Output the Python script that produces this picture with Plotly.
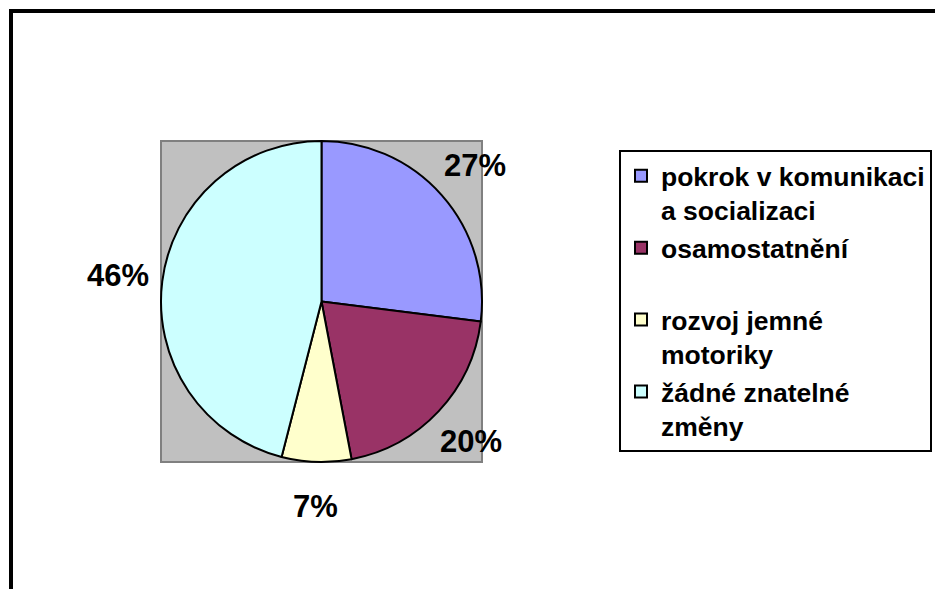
import math
import plotly.graph_objects as go

categories = ["pokrok v komunikaci<br>a socializaci", "osamostatnění<br>&nbsp;", "rozvoj jemné<br>motoriky", "žádné znatelné<br>změny"]
values = [27, 20, 7, 46]
colors = ["#9999FF", "#993366", "#FFFFCC", "#CCFFFF"]

W, H = 943, 589
OFF = 8  # page body margin


def px(x):
    return (x - OFF) / W


def py(y):
    return 1 - (y - OFF) / H


# pie box in screen pixels
bx0, bx1, by0, by1 = 161, 482, 141, 462
fig = go.Figure()
fig.add_trace(go.Pie(
    labels=categories, values=values, sort=False, direction="clockwise", rotation=0,
    marker=dict(colors=colors, line=dict(color="black", width=2)),
    textinfo="none",
    domain=dict(x=[px(bx0), px(bx1)], y=[py(by1), py(by0)]),
    showlegend=True, hoverinfo="label+percent",
))
# percentage labels placed outside each slice at its mid angle
cx, cy = (bx0 + bx1) / 2, (by0 + by1) / 2
R_lab = 205
total = sum(values)
cum = 0
for v in values:
    mid = (cum + v / 2) / total * 2 * math.pi
    cum += v
    lx = cx + R_lab * math.sin(mid)
    ly = cy - R_lab * math.cos(mid)
    fig.add_annotation(x=px(lx), y=py(ly), xref="paper", yref="paper",
                       text=f"{round(v / total * 100)}%", showarrow=False,
                       xanchor="center", yanchor="middle",
                       font=dict(family="Liberation Sans, Arial", size=31, color="black", weight="bold"))
# gray plot area
fig.add_shape(type="rect", xref="paper", yref="paper",
              x0=px(bx0), x1=px(bx1), y0=py(by1), y1=py(by0),
              fillcolor="#C0C0C0", line=dict(color="#808080", width=2), layer="below")
# outer border
fig.add_shape(type="rect", xref="paper", yref="paper",
              x0=px(11), x1=1.05, y0=-0.05, y1=py(11),
              line=dict(color="black", width=4), fillcolor="rgba(0,0,0,0)")
fig.update_layout(
    width=W, height=H, margin=dict(l=0, r=0, t=0, b=0),
    paper_bgcolor="white", plot_bgcolor="white",
    font=dict(family="Liberation Sans, Arial", color="black"),
    legend=dict(x=px(619), xanchor="left", y=py(150), yanchor="top",
                bordercolor="black", borderwidth=2, bgcolor="white",
                font=dict(size=26.5, color="black", weight="bold", family="Liberation Sans, Arial"),
                valign="top", traceorder="normal"),
)
fig.write_html("out.html")
